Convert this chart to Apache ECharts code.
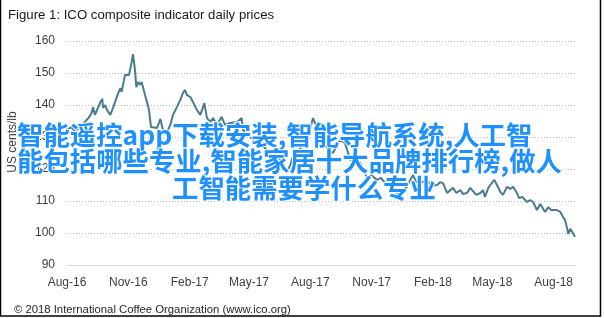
<!DOCTYPE html>
<html>
<head>
<meta charset="utf-8">
<script src="https://cdn.jsdelivr.net/npm/echarts@6/dist/echarts.min.js"></script>
<style>
html,body{margin:0;padding:0;background:#fff;}
#chart{width:604px;height:318px;}
</style>
</head>
<body>
<div id="chart"></div>
<script>
// Day offsets from 1 Aug 2016 for each sampled price
const dayOffsets = [0,6,12,18,24,32,37,39,42,45,50,53,54,57,60,65,69,72,77,80,82,87,90,93,97,99,102,104,107,110,112,117,120,122,123,126,129,135,140,144,150,155,159,165,170,174,177,180,185,189,195,200,206,210,215,219,225,232,237,245,255,262,264,272,279,287,294,300,308,315,321,326,330,335,339,347,353,360,365,369,375,380,384,390,399,405,410,417,425,432,440,444,450,456,465,471,477,482,487,494,500,504,510,515,519,524,530,540,546,555,560,564,570,575,579,584,590,594,600,605,609,614,620,624,627,632,636,641,645,650,654,660,665,669,675,678,683,690,695,699,705,710,713,717,722,726,729,734,740,744,747,750,752,755,758,762];
// ICO composite indicator, US cents/lb
const prices = [132.2,133.1,131.9,132.8,134.1,135.9,137.5,139.4,136.9,138.4,140.9,141.9,139.1,140.0,138.4,136.9,139.1,140.9,143.8,145.3,144.1,149.4,150.0,149.4,153.4,155.9,150.9,145.6,147.2,146.3,147.2,143.1,140.9,139.4,138.4,133.1,133.1,132.8,135.6,132.2,131.6,133.8,136.9,139.4,141.6,143.8,144.7,143.1,142.5,140.9,138.4,136.9,140.6,135.9,134.7,135.9,133.8,136.3,133.8,134.4,134.7,135.9,132.2,130.6,129.1,129.7,127.2,125.9,125.3,123.8,122.8,120.9,118.8,121.3,123.8,125.3,127.5,129.1,132.8,135.9,133.1,132.2,128.1,126.6,125.0,127.5,129.1,128.1,122.8,123.4,121.9,119.7,117.5,118.1,116.6,117.2,115.6,116.6,113.4,112.8,111.3,113.4,114.4,116.6,118.1,115.9,115.6,116.6,114.7,115.0,115.9,115.6,112.5,113.4,114.1,112.5,113.4,112.2,112.5,114.1,113.1,111.9,112.5,113.4,111.3,114.1,115.3,116.6,115.0,112.8,111.9,114.4,113.8,114.4,112.5,110.9,111.3,109.7,110.3,109.7,107.2,109.1,108.8,106.6,108.1,107.2,106.9,107.2,106.6,105.0,104.1,101.6,99.7,101.3,100.9,98.8];
// Quarterly tick positions (day offsets) and their labels
const tickDays = [0,92,184,273,365,457,549,638,730];
const tickLabels = ['Aug-16','Nov-16','Feb-17','May-17','Aug-17','Nov-17','Feb-18','May-18','Aug-18'];
const yTicks = [90,100,110,120,130,140,150,160];
const overlayLines = ['智能遥控app下载安装,智能导航系统,人工智','能包括哪些专业,智能家居十大品牌排行榜,做人','工智能需要学什么专业'];

const chart = echarts.init(document.getElementById('chart'), null, {renderer:'canvas'});
const seriesData = dayOffsets.map((d,i)=>[d,prices[i]]);
const baseFont = 'Liberation Sans';
const overlayStyle = {fontFamily:'Noto Sans CJK SC',fontSize:26.4,fontWeight:'bold',fill:'#1e90ff',stroke:'#ffffff',lineWidth:2,align:'left',verticalAlign:'middle'};
chart.setOption({
  animation:false,
  backgroundColor:'#ffffff',
  title:[
    {text:'Figure 1: ICO composite indicator daily prices',left:3,top:4,
     textStyle:{fontFamily:baseFont,fontSize:13.2,fontWeight:'normal',color:'#1a1a1a'}},
    {text:'© 2018 International Coffee Organization (www.ico.org)',left:9,top:299,
     textStyle:{fontFamily:baseFont,fontSize:11.3,fontWeight:'normal',color:'#262626'}}
  ],
  grid:{left:67,right:29,top:41,bottom:53,containLabel:false},
  xAxis:{
    type:'value',min:0,max:762,
    axisLine:{show:true,lineStyle:{color:'#d9d9d9',width:1}},
    axisTick:{show:false},
    splitLine:{show:false},
    axisLabel:{
      customValues:tickDays,
      formatter:(v)=>{const i=tickDays.indexOf(v);return i>=0?tickLabels[i]:'';},
      fontFamily:baseFont,fontSize:12,color:'#404040',margin:12
    }
  },
  yAxis:{
    type:'value',min:yTicks[0],max:yTicks[yTicks.length-1],interval:10,
    axisLine:{show:false},axisTick:{show:false},
    axisLabel:{fontFamily:baseFont,fontSize:12,color:'#404040',margin:12},
    splitLine:{show:true,lineStyle:{color:'#bfbfbf',width:1,type:[1,2]}}
  },
  series:[{
    type:'line',data:seriesData,showSymbol:false,symbol:'none',
    lineStyle:{color:'#4a7b8e',width:2},z:3
  }],
  graphic:[
    {type:'text',x:13,y:142,rotation:Math.PI/2,z:10,
     style:{text:'US cents/lb',fontFamily:baseFont,fontSize:12,fill:'#404040',align:'center',verticalAlign:'middle'}},
    {type:'text',x:17,y:135,z:100,style:Object.assign({text:overlayLines[0]},overlayStyle)},
    {type:'text',x:17,y:161,z:100,style:Object.assign({text:overlayLines[1]},overlayStyle)},
    {type:'text',x:172,y:188,z:100,style:Object.assign({text:overlayLines[2]},overlayStyle)},
    {type:'rect',z:200,silent:true,shape:{x:0.5,y:-3,width:600,height:319},
     style:{fill:'none',stroke:'#000000',lineWidth:1.5}}
  ]
});
</script>
</body>
</html>
